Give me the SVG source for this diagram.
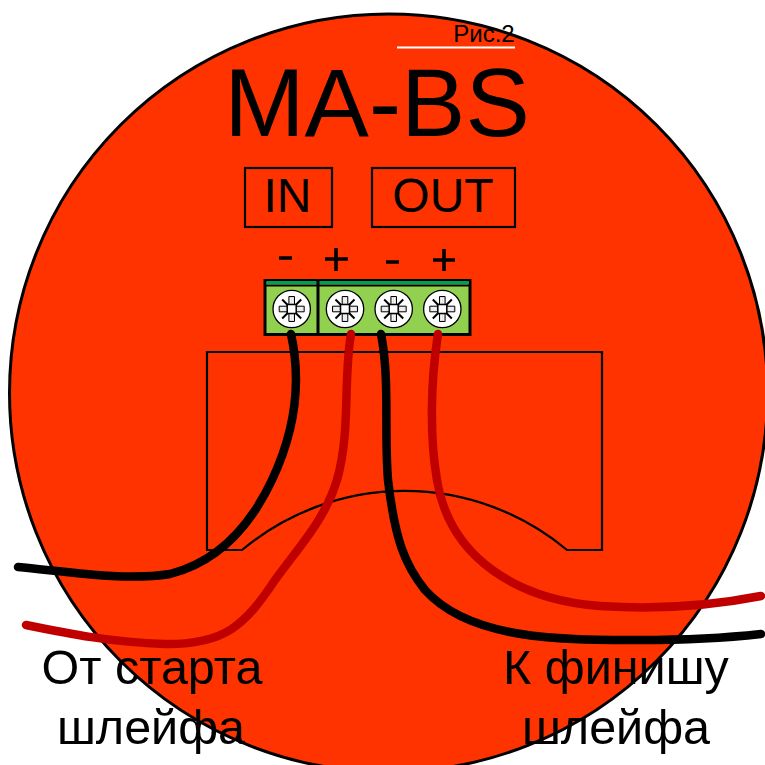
<svg xmlns="http://www.w3.org/2000/svg" width="765" height="765" viewBox="0 0 765 765">
<style>
text{font-family:"Liberation Sans",Arial,sans-serif;fill:#000}
.o{fill:none;stroke:#000;stroke-width:2.2}
.w{fill:none;stroke-linecap:round;stroke-width:8.500}
.k{stroke:#000}.r{stroke:#c00000}
.m{text-anchor:middle}
</style>
<defs>
<g id="screw">
<circle r="18.700" fill="#fff" stroke="#000" stroke-width="1.300"/>
<path d="M-9.500-9.500 9.500 9.500M-9.500 9.500 9.500-9.500" stroke="#000" stroke-width="2"/>
<path d="M-2.800-12.500H2.800V12.500H-2.800ZM-12.500-2.800H12.500V2.800H-12.500Z" fill="#ddd" stroke="#000" stroke-width="1"/>
<path d="M-1-11V-6M1-11V-6M-1 11V6M1 11V6M-11-1H-6M-11 1H-6M11-1H6M11 1H6" fill="none" stroke="#fff" stroke-width="1"/>
<rect x="-4.500" y="-4.500" width="9" height="9" fill="#fff" stroke="#000" stroke-width="1.500"/>
</g>
</defs>
<rect width="765" height="765" fill="#fff"/>
<circle id="body" cx="388.500" cy="393" r="379" fill="#ff3300" stroke="#000" stroke-width="3"/>
<g id="title">
<text x="484" y="42" font-size="24" class="m">Рис.2</text>
<line x1="397" y1="47.500" x2="515" y2="47.500" stroke="#fff" stroke-width="2"/>
<text x="377" y="136" font-size="96.500" class="m">MA-BS</text>
</g>
<g id="in-label"><rect class="o" x="245" y="168" width="87" height="59"/><text x="287.500" y="212" font-size="48" class="m">IN</text></g>
<g id="out-label"><rect class="o" x="372" y="168" width="143" height="59"/><text x="443" y="212" font-size="48" class="m">OUT</text></g>
<g id="polarity">
<path d="M279 258H292M386 262H399" stroke="#000" stroke-width="3.600" fill="none"/>
<path d="M325 259H348M336 248V271M433 260H455M444 249V271" stroke="#000" stroke-width="3.600" fill="none"/>
</g>
<g id="terminal">
<rect x="265" y="280.500" width="205" height="54" fill="#92d050" stroke="#000" stroke-width="3"/>
<path d="M266.500 282.500H469" stroke="#00a050" stroke-width="3"/>
<path d="M265 285.500H470" stroke="#000" stroke-width="2"/>
<line x1="318" y1="280" x2="318" y2="334" stroke="#000" stroke-width="3"/>
<use href="#screw" x="291.700" y="309"/>
<use href="#screw" x="345" y="309"/>
<use href="#screw" x="393.700" y="309"/>
<use href="#screw" x="442.300" y="309"/>
</g>
<g id="base">
<path class="o" d="M207 352H602V550H567A253 253 0 0 0 242 550H207Z"/>
</g>
<g id="connectors">
<path class="w r" d="M351 334C343 380 351 430 337 480C325 520 298 548 275 580C245 625 225 645 165 644C110 642 70 634 26 625"/>
<path class="w r" d="M438 334C430 385 430 440 437 480C450 560 520 600 600 606C660 610 715 605 761 596"/>
<path class="w k" d="M291 334C300 375 298 425 272 480C255 516 225 560 170 574C125 581 70 572 18 567"/>
<path class="w k" d="M381 334C390 380 384 430 388 480C395 540 405 565 425 590C470 640 560 640 640 640C685 640 725 638 761 634"/>
</g>
<g id="captions" font-size="48.500">
<text x="152" y="684" class="m">От старта</text>
<text x="151" y="744" class="m">шлейфа</text>
<text x="616" y="684" class="m">К финишу</text>
<text x="616" y="744" class="m">шлейфа</text>
</g>
</svg>
